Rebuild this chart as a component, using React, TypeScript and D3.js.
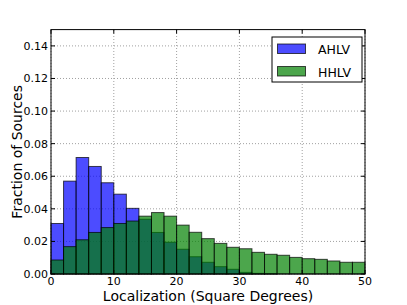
import React, { useRef, useEffect } from "react";
import * as d3 from "d3";

// histogram bins, width 2 sq. deg.
const binStarts = d3.range(0, 50, 2);
const ahlv = [
  0.031, 0.057, 0.0715, 0.066, 0.056, 0.049, 0.0403, 0.0336, 0.0255, 0.0195,
  0.0152, 0.0106, 0.0072, 0.0045, 0.0029, 0.001, 0.0004, 0.0002, 0, 0, 0, 0, 0,
  0, 0,
];
const hhlv = [
  0.0086, 0.0168, 0.021, 0.0255, 0.0285, 0.031, 0.0325, 0.0355, 0.0377, 0.0355,
  0.03, 0.0256, 0.0217, 0.0188, 0.0164, 0.0155, 0.0133, 0.0121, 0.0115, 0.0102,
  0.0094, 0.009, 0.008, 0.0072, 0.0072,
];
const seriesNames = ["AHLV", "HHLV"];
const xTicks = [0, 10, 20, 30, 40, 50];
const yTicks = [0, 0.02, 0.04, 0.06, 0.08, 0.1, 0.12, 0.14];

const colors = ["#0000ff", "#008000"];
const font = "DejaVu Sans, sans-serif";

function App() {
  const svgRef = useRef<SVGSVGElement>(null);

  useEffect(() => {
    const w = 407;
    const h = 305;
    const left = 51,
      right = 365,
      top = 29.6,
      bottom = 274;
    const svg = d3.select(svgRef.current).attr("width", w).attr("height", h);
    svg.selectAll("*").remove();

    const x = d3.scaleLinear().domain([0, 50]).range([left, right]);
    const y = d3.scaleLinear().domain([0, 0.15]).range([bottom, top]);

    svg.append("rect").attr("width", w).attr("height", h).attr("fill", "white");

    // grid
    const grid = svg.append("g").attr("stroke", "#a0a0a0").attr("stroke-dasharray", "1,2");
    grid
      .selectAll("line.gx")
      .data(xTicks)
      .join("line")
      .attr("x1", (d) => x(d))
      .attr("x2", (d) => x(d))
      .attr("y1", bottom)
      .attr("y2", top);
    grid
      .selectAll("line.gy")
      .data(yTicks)
      .join("line")
      .attr("class", "gy")
      .attr("x1", left)
      .attr("x2", right)
      .attr("y1", (d) => y(d))
      .attr("y2", (d) => y(d));

    // bars
    [ahlv, hhlv].forEach((vals, si) => {
      svg
        .append("g")
        .selectAll("rect")
        .data(vals)
        .join("rect")
        .attr("x", (d, i) => x(binStarts[i]))
        .attr("width", (d, i) => x(binStarts[i] + 2) - x(binStarts[i]))
        .attr("y", (d) => y(d))
        .attr("height", (d) => bottom - y(d))
        .attr("fill", colors[si])
        .attr("fill-opacity", 0.7)
        .attr("stroke", "black")
        .attr("stroke-opacity", 0.7)
        .attr("stroke-width", 1);
    });

    // frame
    svg
      .append("rect")
      .attr("x", left)
      .attr("y", top)
      .attr("width", right - left)
      .attr("height", bottom - top)
      .attr("fill", "none")
      .attr("stroke", "black");

    // ticks (inside, all four sides)
    const ticks = svg.append("g").attr("stroke", "black");
    xTicks.forEach((t) => {
      ticks.append("line").attr("x1", x(t)).attr("x2", x(t)).attr("y1", bottom).attr("y2", bottom - 4);
      ticks.append("line").attr("x1", x(t)).attr("x2", x(t)).attr("y1", top).attr("y2", top + 4);
    });
    yTicks.forEach((t) => {
      ticks.append("line").attr("x1", left).attr("x2", left + 4).attr("y1", y(t)).attr("y2", y(t));
      ticks.append("line").attr("x1", right).attr("x2", right - 4).attr("y1", y(t)).attr("y2", y(t));
    });

    // tick labels
    svg
      .append("g")
      .selectAll("text")
      .data(xTicks)
      .join("text")
      .attr("x", (d) => x(d))
      .attr("y", bottom + 10.8)
      .attr("text-anchor", "middle")
      .attr("font-family", font)
      .attr("font-size", 11)
      .text((d) => d);
    svg
      .append("g")
      .selectAll("text")
      .data(yTicks)
      .join("text")
      .attr("x", left - 3)
      .attr("y", (d) => y(d) + 4)
      .attr("text-anchor", "end")
      .attr("font-family", font)
      .attr("font-size", 11)
      .text((d) => d3.format(".2f")(d));

    // axis labels
    svg
      .append("text")
      .attr("x", (left + right) / 2)
      .attr("y", 300.5)
      .attr("text-anchor", "middle")
      .attr("font-family", font)
      .attr("font-size", 14)
      .text("Localization (Square Degrees)");
    svg
      .append("text")
      .attr("transform", `translate(22, ${(top + bottom) / 2}) rotate(-90)`)
      .attr("text-anchor", "middle")
      .attr("font-family", font)
      .attr("font-size", 14)
      .text("Fraction of Sources");

    // legend
    const lg = svg.append("g");
    lg.append("rect")
      .attr("x", 272)
      .attr("y", 37)
      .attr("width", 90)
      .attr("height", 45)
      .attr("fill", "white")
      .attr("stroke", "black");
    seriesNames.forEach((name, i) => {
      const yy = 44 + i * 22.5;
      lg.append("rect")
        .attr("x", 277.5)
        .attr("y", yy)
        .attr("width", 28)
        .attr("height", 9.5)
        .attr("fill", colors[i])
        .attr("fill-opacity", 0.7)
        .attr("stroke", "black")
        .attr("stroke-opacity", 0.7);
      lg.append("text")
        .attr("x", 318)
        .attr("y", yy + 10)
        .attr("font-family", font)
        .attr("font-size", 12.5)
        .text(name);
    });
  }, []);

  return (
    <div style={{ position: "absolute", left: 0, top: 0 }}>
      <svg ref={svgRef}></svg>
    </div>
  );
}

export default App;
